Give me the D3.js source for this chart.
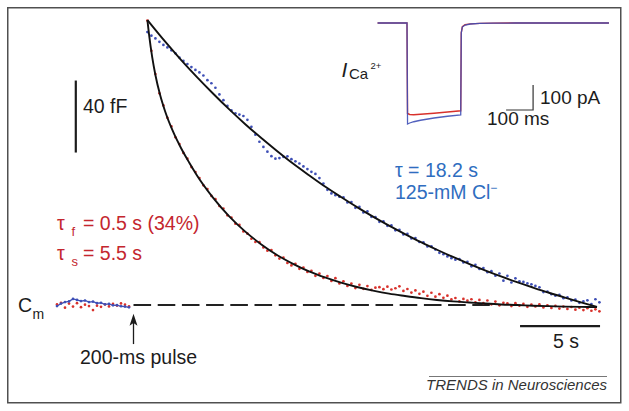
<!DOCTYPE html>
<html><head><meta charset="utf-8">
<script src="https://cdn.jsdelivr.net/npm/d3@7"></script>
<style>
html,body{margin:0;padding:0;background:#fff;}
svg{display:block;}
text{font-family:"Liberation Sans", Arial, Helvetica, sans-serif;}
</style>
</head><body>
<svg id="c" width="629" height="411"></svg>
<script>
// ---------------- DATA ----------------
// Membrane capacitance (fF, relative to baseline) sampled every 0.25 s after the pulse
const dotStart = 0.9, dotStep = 0.25;   // seconds (pulse onset = 0 s)
const cmBlue = [151.6,149.6,148.1,146.2,144.5,143.1,141.5,139.8,137.5,135.6,
  133.9,132.2,130.6,129.2,127.5,124.9,123.2,120.7,117.0,113.8,
  110.6,108.1,106.5,105.8,105.0,102.9,99.0,94.6,90.7,87.8,
  85.2,82.7,81.3,81.6,82.3,82.6,81.0,79.8,78.6,77.0,
  75.5,74.0,72.8,70.5,67.5,64.0,62.0,61.0,60.2,59.8,
  57.0,57.2,54.0,54.5,51.4,52.0,49.0,48.8,46.2,46.5,
  44.0,44.2,41.5,41.8,39.2,39.5,37.0,37.2,35.0,34.8,
  32.5,32.6,30.8,29.0,28.2,27.0,26.0,25.2,25.5,23.6,
  24.0,21.5,22.3,20.0,20.5,18.2,18.8,16.3,17.5,13.5,
  16.2,12.5,14.8,13.2,12.8,12.0,11.5,10.6,9.8,7.2,
  7.5,6.0,5.2,5.6,3.8,4.2,2.5,3.0,1.2,2.0,
  2.6,0.5,3.2,1.5];
const cmRed = [158.0,141.2,128.3,117.6,110.9,104.0,99.2,93.2,89.4,84.5,
  81.3,76.6,73.9,70.5,66.5,64.4,60.6,58.8,55.0,53.6,
  49.8,48.6,45.2,44.5,40.9,39.6,36.8,35.0,34.9,32.0,
  30.2,30.5,27.6,25.8,26.3,23.4,22.0,22.9,20.1,20.8,
  18.4,19.0,16.2,17.4,15.0,16.1,13.4,14.9,12.0,13.2,
  10.6,11.9,9.4,11.2,9.0,10.5,8.4,9.6,9.9,8.8,
  10.2,8.6,9.3,10.4,7.8,8.9,6.9,8.1,6.2,7.4,
  5.1,6.8,4.6,6.0,4.0,5.2,3.1,3.9,2.0,3.4,
  2.4,3.2,1.5,2.8,1.0,2.5,0.4,1.9,-0.2,1.2,
  0.9,-0.6,1.0,-0.3,0.6,-1.0,0.2,-0.8,0.3,-1.4,
  -0.2,-1.6,-0.5,-2.0,-0.9,-2.2,-1.1,-2.6,-1.5,-2.8,
  -1.8,-3.2,-2.4,-3.5];
// Pre-pulse baseline, every 0.25 s
const preStart = -4.75, preStep = 0.25;
const preBlue = [-0.6,0.8,1.6,2.0,3.4,2.8,2.2,2.5,1.6,1.9,1.0,1.2,0.4,0.6,-0.2,-0.1,-0.7,-0.9,-1.3];
const preRed  = [0.3,1.2,-1.5,0.8,-0.9,1.0,-1.2,0.2,-0.6,-2.8,-0.4,-1.0,0.3,-0.8,0.6,-0.3,0.9,0.2,-0.7];
// Exponential fits (s, fF)
const fitBlueT = [0.9,2,3,4,5,6,7,8,9,10,11,12,13,14,15,16,17,18,19,20,21,22,23,24,25,26,27,28,29];
const fitBlueV = [158.3,146.4,136.2,126.6,117.5,108.8,100.6,92.9,85.6,78.6,72.1,65.8,60.0,54.4,49.1,44.1,39.4,34.9,30.7,26.7,22.9,19.3,15.9,12.7,9.7,6.8,4.1,1.5,-1.0];
const fitRedT = [0.9,1.0,1.2,1.4,1.7,2.0,2.5,3.0,3.5,4,5,6,7,8,9,10,11,12,13,14,15,16,17,18,19,20,21,22,23,24,25,26,27,28,29];
const fitRedV = [158.3,150.5,137.7,127.8,116.5,107.8,96.4,87.2,79.3,72.0,59.7,49.4,40.9,33.8,27.8,22.9,18.7,15.3,12.4,10.0,8.0,6.3,5.0,3.8,2.8,2.0,1.4,0.8,0.3,0.0,-0.4,-0.65,-0.9,-1.06,-1.2];
// Inset: Ca2+ current (ms, pA)
const icaT    = [-109,0,2,10,25,50,100,150,199,201,205,215,235,270,320,400,748];
const icaBlue = [0,0,-404,-400,-395,-389,-380,-373,-368,-40,-16,-8,-4,-1.5,-0.5,0,0];
const icaRed  = [0,0,-362,-366,-367,-365,-361,-356,-351,-38,-15,-7,-3.5,-1.5,-0.5,0,0];
// Scale bars / labels
const barCap = 40, barTime = 5, barPA = 100, barMS = 100;

// ---------------- DRAW ----------------
const svg = d3.select("#c");
const BLUE = "#3e4fb6", RED = "#d8312b", TBLUE = "#2f6dc0", TRED = "#c4262e", INK = "#1c1c1c";

const x = d3.scaleLinear().domain([0, 5]).range([133, 213]);     // 16 px / s
const y = d3.scaleLinear().domain([0, 40]).range([305, 233]);    // 1.8 px / fF
const xi = d3.scaleLinear().domain([0, 100]).range([407, 434]);  // inset ms
const yi = d3.scaleLinear().domain([0, -100]).range([23, 48]);   // inset pA

// frame
svg.append("rect").attr("x", 7.75).attr("y", 7.75).attr("width", 613).attr("height", 395)
  .attr("fill", "none").attr("stroke", "#505050").attr("stroke-width", 1.5);

// dashed baseline
svg.append("line").attr("x1", x(0) + 0.5).attr("x2", x(22.3)).attr("y1", y(0)).attr("y2", y(0))
  .attr("stroke", "#222").attr("stroke-width", 1.8).attr("stroke-dasharray", "17.6 6.6");

// dots
const post = (arr) => arr.map((v, i) => [dotStart + i * dotStep, v]);
const pre = (arr) => arr.map((v, i) => [preStart + i * preStep, v]);
const g = svg.append("g");
g.append("path").datum(pre(preBlue)).attr("fill", "none").attr("stroke", BLUE).attr("stroke-width", 1.3)
  .attr("d", d3.line().x(d => x(d[0])).y(d => y(d[1])));
[[pre(preRed), RED], [pre(preBlue), BLUE], [post(cmRed), RED], [post(cmBlue), BLUE]].forEach(([pts, col]) => {
  g.selectAll(null).data(pts).enter().append("circle")
    .attr("cx", d => x(d[0])).attr("cy", d => y(d[1])).attr("r", 1.35).attr("fill", col);
});

// fits
const fitLine = d3.line().x(d => x(d[0])).y(d => y(d[1])).curve(d3.curveMonotoneX);
svg.append("path").datum(fitBlueT.map((t, i) => [t, fitBlueV[i]])).attr("fill", "none")
  .attr("stroke", "#111").attr("stroke-width", 1.9).attr("d", fitLine);
svg.append("path").datum(fitRedT.map((t, i) => [t, fitRedV[i]])).attr("fill", "none")
  .attr("stroke", "#111").attr("stroke-width", 1.9).attr("d", fitLine);

// 40 fF scale bar
svg.append("line").attr("x1", x(-3.575)).attr("x2", x(-3.575)).attr("y1", y(84.7)).attr("y2", y(84.7 + barCap))
  .attr("stroke", INK).attr("stroke-width", 2.2);
// 5 s scale bar
svg.append("line").attr("x1", x(24.19)).attr("x2", x(24.19 + barTime)).attr("y1", y(-11.7)).attr("y2", y(-11.7))
  .attr("stroke", INK).attr("stroke-width", 2.2);
// arrow at pulse onset
svg.append("line").attr("x1", x(0) + 0.5).attr("x2", x(0) + 0.5).attr("y1", y(-21.7)).attr("y2", y(-9))
  .attr("stroke", INK).attr("stroke-width", 1.3);
svg.append("path").attr("fill", INK)
  .attr("d", `M${x(0) + 0.5},${y(-4.8)} L${x(0) - 3.5},${y(-11.5)} L${x(0) + 0.5},${y(-10)} L${x(0) + 4.5},${y(-11.5)} Z`);

// inset traces
const iline = d3.line().x(d => xi(d[0])).y(d => yi(d[1]));
svg.append("path").datum(icaT.map((t, i) => [t, icaRed[i]])).attr("fill", "none")
  .attr("stroke", RED).attr("stroke-width", 1.4).attr("d", iline);
svg.append("path").datum(icaT.map((t, i) => [t, icaBlue[i]])).attr("fill", "none")
  .attr("stroke", BLUE).attr("stroke-width", 1.3).attr("stroke-opacity", 0.9).attr("d", iline);
// inset scale bar
svg.append("path").attr("fill", "none").attr("stroke", "#333").attr("stroke-width", 1.2)
  .attr("d", `M${xi(367)},${yi(-348)} L${xi(367 + barMS)},${yi(-348)} L${xi(367 + barMS)},${yi(-348 + barPA)}`);

// ---------------- TEXT ----------------
function txt(s, px, py, size, opts = {}) {
  const t = svg.append("text").attr("x", px).attr("y", py).attr("font-size", size)
    .attr("fill", opts.fill || INK).text(s);
  if (opts.anchor) t.attr("text-anchor", opts.anchor);
  if (opts.italic) t.attr("font-style", "italic");
  return t;
}
txt("40 fF", 83, 113, 19.5);
txt("C", 18, 312, 19.5);
txt("m", 32.5, 318.5, 14);
txt("200-ms pulse", 80, 364, 19.5);
txt("5 s", 553, 348, 19.5);
txt("TRENDS in Neurosciences", 607, 390, 15, {anchor: "end", italic: true, fill: "#333"});
svg.append("line").attr("x1", 429).attr("x2", 607).attr("y1", 376.5).attr("y2", 376.5)
  .attr("stroke", "#777").attr("stroke-width", 1);

txt("\u03C4 = 18.2 s", 395, 176.5, 19.5, {fill: TBLUE});
const cl = txt("125-mM Cl", 395, 198.5, 19.5, {fill: TBLUE});
cl.append("tspan").attr("dy", -7).attr("font-size", 12).text("\u2212");

txt("\u03C4", 57, 229.5, 19.5, {fill: TRED});
txt("f", 71.5, 235.5, 13, {fill: TRED});
txt("= 0.5 s (34%)", 83, 229.5, 19.5, {fill: TRED});
txt("\u03C4", 57, 259.5, 19.5, {fill: TRED});
txt("s", 71.5, 265.5, 13, {fill: TRED});
txt("= 5.5 s", 83, 259.5, 19.5, {fill: TRED});

txt("I", 341.5, 77, 21, {italic: true});
txt("Ca", 349, 79, 15);
txt("2+", 370.5, 69, 9.5);
txt("100 pA", 540, 104, 19);
txt("100 ms", 487, 125, 19);
</script>
</body></html>
